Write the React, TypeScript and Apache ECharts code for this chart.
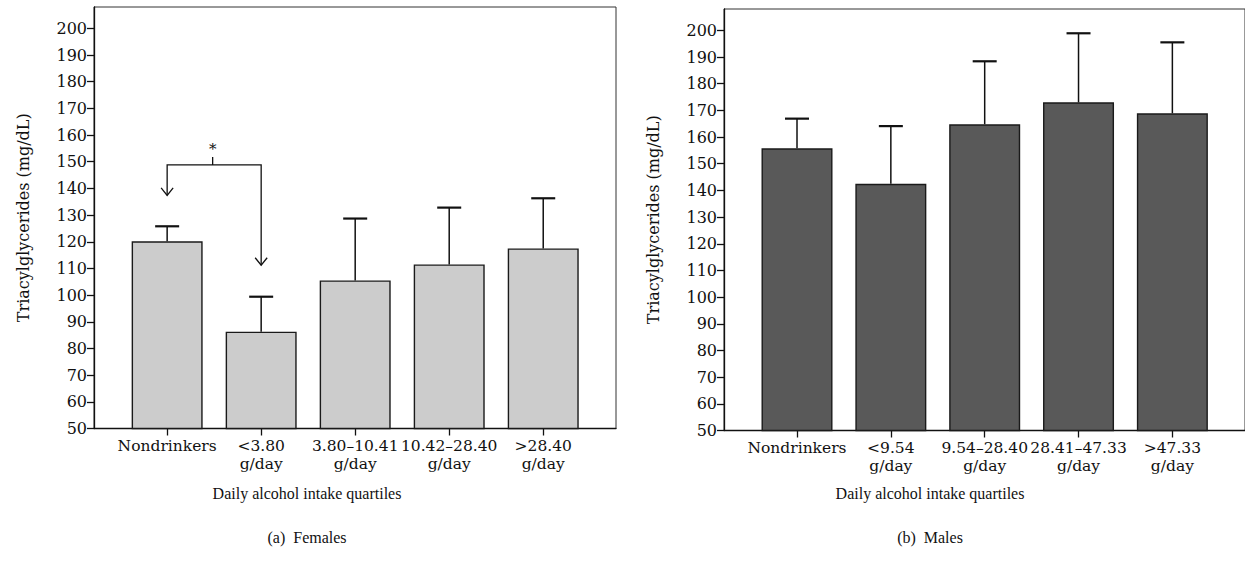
import React, { useEffect, useRef } from "react";
import * as echarts from "echarts";

const positions = [1, 2, 3, 4, 5];
const femaleCategories = ["Nondrinkers", "<3.80\ng/day", "3.80–10.41\ng/day", "10.42–28.40\ng/day", ">28.40\ng/day"];
const maleCategories = ["Nondrinkers", "<9.54\ng/day", "9.54–28.40\ng/day", "28.41–47.33\ng/day", ">47.33\ng/day"];
const femaleMeans = [120.2, 86.3, 105.5, 111.5, 117.5];
const femaleUpper = [125.8, 99.4, 128.7, 132.8, 136.3];
const maleMeans = [155.8, 142.5, 164.8, 173.0, 168.9];
const maleUpper = [166.9, 164.1, 188.4, 198.9, 195.5];
const yTicks = [50, 60, 70, 80, 90, 100, 110, 120, 130, 140, 150, 160, 170, 180, 190, 200];
// significance bracket (females): from Nondrinkers to <3.80
const bracketFrom = [1, 137.4];
const bracketTo = [2, 111.2];
const bracketLevel = 148.8;
const starX = 1.484;

const FONT = "DejaVu Serif";
const TITLE_FONT = "Liberation Serif";
const TEXT = "#111111";

function makeXAxis(gridIndex: number, cats: string[]) {
  return {
    type: "value",
    gridIndex,
    min: 0.222,
    max: 5.774,
    axisLine: { show: true, lineStyle: { color: "#111", width: 1.3 } },
    axisTick: { show: true, length: 7, customValues: positions, lineStyle: { color: "#111", width: 1.3 } },
    axisLabel: {
      customValues: positions,
      formatter: (v: number) => cats[Math.round(v) - 1] ?? "",
      fontFamily: FONT,
      fontSize: 15.5,
      color: TEXT,
      lineHeight: 18,
      margin: 8,
    },
    splitLine: { show: false },
  };
}

function makeYAxis(gridIndex: number) {
  return {
    type: "value",
    gridIndex,
    min: 50,
    max: 208,
    name: "Triacylglycerides (mg/dL)",
    nameLocation: "middle",
    nameGap: 63,
    nameTextStyle: { fontFamily: FONT, fontSize: 16, color: TEXT },
    axisLine: { show: true, lineStyle: { color: "#111", width: 1.3 } },
    axisTick: { show: true, length: 7, customValues: yTicks, lineStyle: { color: "#111", width: 1.3 } },
    axisLabel: { customValues: yTicks, fontFamily: FONT, fontSize: 16, color: TEXT, margin: 7 },
    splitLine: { show: false },
  };
}

function errorSeries(idx: number, means: number[], upper: number[]) {
  return {
    type: "custom",
    xAxisIndex: idx,
    yAxisIndex: idx,
    z: 5,
    data: positions.map((p, i) => [p, means[i], upper[i]]),
    encode: { x: 0, y: 2 },
    renderItem: (_params: any, api: any) => {
      const x = api.value(0);
      const base = api.coord([x, api.value(1)]);
      const top = api.coord([x, api.value(2)]);
      return {
        type: "group",
        children: [
          { type: "line", shape: { x1: base[0], y1: base[1], x2: top[0], y2: top[1] }, style: { stroke: "#111", lineWidth: 1.5 } },
          { type: "line", shape: { x1: top[0] - 12, y1: top[1], x2: top[0] + 12, y2: top[1] }, style: { stroke: "#111", lineWidth: 2.2 } },
        ],
      };
    },
  };
}

function barSeries(idx: number, means: number[], color: string) {
  return {
    type: "bar",
    xAxisIndex: idx,
    yAxisIndex: idx,
    barWidth: 71,
    data: positions.map((p, i) => [p, means[i]]),
    itemStyle: { color, borderColor: "#1a1a1a", borderWidth: 1.4 },
  };
}

function titleText(x: number, y: number, text: string) {
  return {
    type: "text",
    x,
    y,
    style: { text, fontFamily: TITLE_FONT, fontSize: 16, fill: TEXT, align: "center", verticalAlign: "middle" },
  };
}

export default function App() {
  const ref = useRef<HTMLDivElement>(null);
  useEffect(() => {
    if (!ref.current) return;
    const chart = echarts.init(ref.current, undefined, { renderer: "svg" });
    const option: any = {
      animation: false,
      backgroundColor: "#ffffff",
      grid: [
        { left: 94, top: 7, width: 522, height: 421.5, show: true, borderColor: "#333", borderWidth: 1, backgroundColor: "transparent" },
        { left: 724, top: 9, width: 522, height: 421.5, show: true, borderColor: "#333", borderWidth: 1, backgroundColor: "transparent" },
      ],
      xAxis: [makeXAxis(0, femaleCategories), makeXAxis(1, maleCategories)],
      yAxis: [makeYAxis(0), makeYAxis(1)],
      series: [
        barSeries(0, femaleMeans, "#cccccc"),
        errorSeries(0, femaleMeans, femaleUpper),
        barSeries(1, maleMeans, "#595959"),
        errorSeries(1, maleMeans, maleUpper),
        {
          type: "custom",
          xAxisIndex: 0,
          yAxisIndex: 0,
          z: 6,
          data: [[bracketFrom[0], bracketFrom[1], bracketTo[0], bracketTo[1], bracketLevel, starX]],
          renderItem: (_p: any, api: any) => {
            const l0 = api.coord([api.value(0), api.value(4)]);
            const lTip = api.coord([api.value(0), api.value(1)]);
            const r0 = api.coord([api.value(2), api.value(4)]);
            const rTip = api.coord([api.value(2), api.value(3)]);
            const s = api.coord([api.value(5), api.value(4)]);
            const st = { stroke: "#111", lineWidth: 1.3, fill: "none" };
            const head = (p: number[]) => ({
              type: "polyline",
              shape: { points: [[p[0] - 6, p[1] - 7.5], [p[0], p[1]], [p[0] + 6, p[1] - 7.5]] },
              style: st,
            });
            return {
              type: "group",
              children: [
                { type: "polyline", shape: { points: [lTip, l0, r0, rTip] }, style: st },
                head(lTip),
                head(rTip),
                { type: "line", shape: { x1: s[0], y1: s[1], x2: s[0], y2: s[1] - 8 }, style: st },
                {
                  type: "text",
                  x: s[0],
                  y: s[1] - 16,
                  style: { text: "*", fontFamily: FONT, fontSize: 15, fill: TEXT, align: "center", verticalAlign: "middle" },
                },
              ],
            };
          },
        },
      ],
      graphic: [
        titleText(307, 493, "Daily alcohol intake quartiles"),
        titleText(307, 537, "(a)\u00a0\u00a0Females"),
        titleText(930, 493, "Daily alcohol intake quartiles"),
        titleText(930, 537, "(b)\u00a0\u00a0Males"),
      ],
    };
    chart.setOption(option);
    return () => chart.dispose();
  }, []);
  return <div ref={ref} style={{ position: "absolute", left: 0, top: 0, width: 1245, height: 569 }} />;
}
